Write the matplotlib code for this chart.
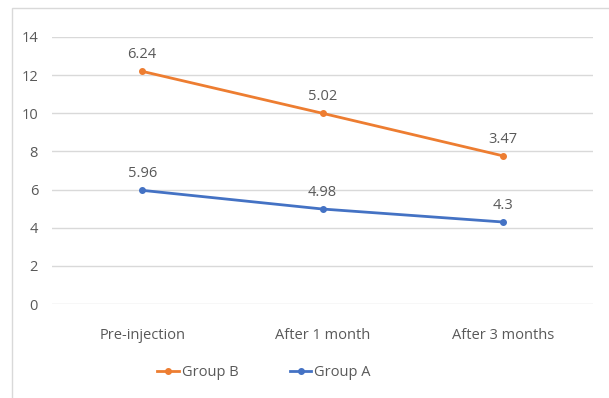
import numpy as np
import matplotlib.pyplot as plt
from matplotlib.patches import Rectangle

# Stacked line chart (Excel style): Group B is drawn on top of Group A
categories = ['Pre-injection', 'After 1 month', 'After 3 months']
group_a = [5.96, 4.98, 4.3]
group_b = [6.24, 5.02, 3.47]
a_labels = ['5.96', '4.98', '4.3']
b_labels = ['6.24', '5.02', '3.47']

orange = '#ED7D31'
blue = '#4472C4'
text_color = '#595959'

plt.rcParams['font.family'] = ['Open Sans', 'DejaVu Sans']

fig = plt.figure(figsize=(6.09, 3.98), dpi=100)
ax = fig.add_axes([52 / 609, 1 - 304 / 398, 541 / 609, 267 / 398])

x = np.arange(len(categories))
stack_b = np.array(group_a) + np.array(group_b)

ax.plot(x, stack_b, color=orange, lw=2, marker='o', ms=4, label='Group B', zorder=3)
ax.plot(x, group_a, color=blue, lw=2, marker='o', ms=4, label='Group A', zorder=3)

for xi, yi, s in zip(x, stack_b, b_labels):
    ax.annotate(s, (xi, yi), xytext=(0, 6.5), textcoords='offset points',
                ha='center', va='bottom', fontsize=10.5, color=text_color)
for xi, yi, s in zip(x, group_a, a_labels):
    ax.annotate(s, (xi, yi), xytext=(0, 6.5), textcoords='offset points',
                ha='center', va='bottom', fontsize=10.5, color=text_color)

ax.set_xlim(-0.5, 2.5)
ax.set_ylim(0, 14)
ax.set_yticks(range(0, 15, 2))
ax.set_xticks(x)
ax.set_xticklabels(categories)
ax.grid(axis='y', color='#D9D9D9', lw=1)
ax.set_axisbelow(True)
for sp in ax.spines.values():
    sp.set_visible(False)
ax.tick_params(length=0, labelsize=10.5, colors=text_color)
ax.tick_params(axis='x', pad=17)
ax.tick_params(axis='y', pad=10)

leg = fig.legend(loc='center', bbox_to_anchor=(264 / 609, 1 - 373 / 398), ncol=2,
                 frameon=False, fontsize=10.5, handlelength=1.5, handletextpad=0.2,
                 columnspacing=3.5, labelcolor=text_color)

# light outer chart border
fig.patches.append(Rectangle((12 / 609, -0.1), 1.2, 1 - 8 / 398 + 0.1,
                             transform=fig.transFigure, fill=False,
                             edgecolor='#D9D9D9', lw=1))

fig.savefig('out.png', dpi=100)
